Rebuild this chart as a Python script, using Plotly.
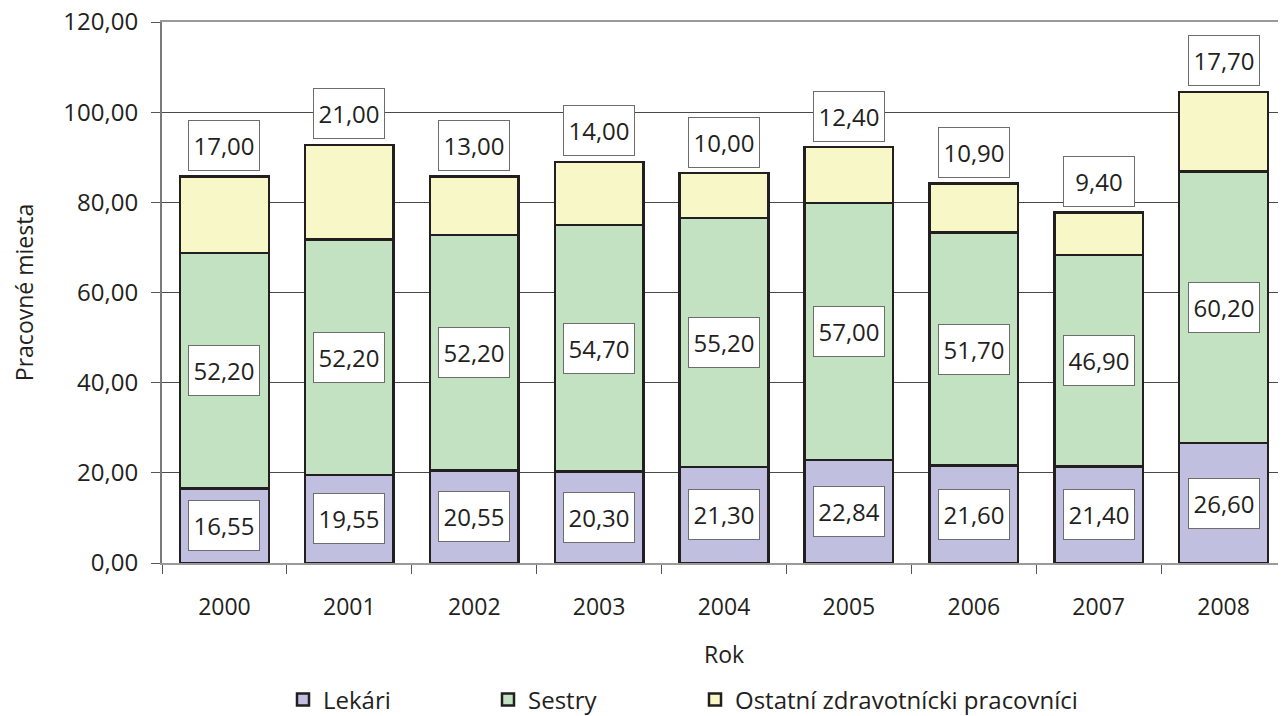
import plotly.graph_objects as go

roky = ["2000", "2001", "2002", "2003", "2004", "2005", "2006", "2007", "2008"]
lekari = [16.55, 19.55, 20.55, 20.30, 21.30, 22.84, 21.60, 21.40, 26.60]
sestry = [52.20, 52.20, 52.20, 54.70, 55.20, 57.00, 51.70, 46.90, 60.20]
ostatni = [17.00, 21.00, 13.00, 14.00, 10.00, 12.40, 10.90, 9.40, 17.70]

FONT = "Open Sans"
TXT = "#231f20"
W, H = 1278, 708  # stranka ma okraj 8 px


def fmt(v):
    return "{:.2f}".format(v).replace(".", ",")


fig = go.Figure()
fig.add_trace(go.Bar(x=roky, y=lekari, name="Lekári", legend="legend",
                     marker=dict(color="#c0bfdf", line=dict(color="#231f20", width=2.5))))
fig.add_trace(go.Bar(x=roky, y=sestry, name="Sestry", legend="legend2",
                     marker=dict(color="#c3e2c1", line=dict(color="#231f20", width=2.5))))
fig.add_trace(go.Bar(x=roky, y=ostatni, name="Ostatní zdravotnícki pracovníci", legend="legend3",
                     marker=dict(color="#f8f7c8", line=dict(color="#231f20", width=2.5))))

# popisky hodnot v ramceku (x = poradie kategorie, "2000" by sa bral ako cislo)
box = dict(showarrow=False, bgcolor="white", bordercolor="#6d6d6d", borderwidth=1,
           borderpad=0, height=49, font=dict(family=FONT, size=24, color=TXT))
for i in range(len(roky)):
    l, s, o = lekari[i], sestry[i], ostatni[i]
    fig.add_annotation(x=i, y=l / 2, text=fmt(l), width=70, **box)
    fig.add_annotation(x=i, y=l + s / 2, text=fmt(s), width=70, **box)
    fig.add_annotation(x=i, y=l + s + o, text=fmt(o), width=70, yshift=31, **box)

leg = dict(orientation="h", xref="container", yref="container", xanchor="left",
           yanchor="middle", y=(H - 692) / H, font=dict(family=FONT, size=24, color=TXT))

fig.update_layout(
    barmode="stack",
    bargap=0.29,
    width=W,
    height=H,
    margin=dict(l=154, r=0, t=14, b=153),
    plot_bgcolor="white",
    paper_bgcolor="white",
    separators=", ",
    font=dict(family=FONT, size=23, color=TXT),
    showlegend=True,
    legend=dict(leg, x=275 / W),
    legend2=dict(leg, x=480 / W),
    legend3=dict(leg, x=687 / W),
)
fig.update_xaxes(
    type="category", range=[-0.5, len(roky) - 0.5], automargin=False,
    showline=True, linecolor="#9a9a9a", linewidth=2, mirror=True,
    ticks="outside", tickson="boundaries", ticklen=9, tickcolor="#555",
    tickfont=dict(size=23), tickangle=0, ticklabelstandoff=22,
    title=dict(text="Rok", standoff=26, font=dict(size=23)),
)
fig.update_yaxes(
    range=[0, 120], dtick=20, tickformat=".2f", automargin=False,
    showgrid=True, gridcolor="#4a4a4a", gridwidth=1,
    showline=True, linecolor="#7a7a7a", linewidth=2,
    ticks="outside", ticklen=9, tickcolor="#555",
    tickfont=dict(size=24), ticklabelstandoff=8, ticklabeloverflow="allow",
    title=dict(text="Pracovné miesta", standoff=36, font=dict(size=23)),
    zeroline=False,
)

fig.write_html("out.html")
